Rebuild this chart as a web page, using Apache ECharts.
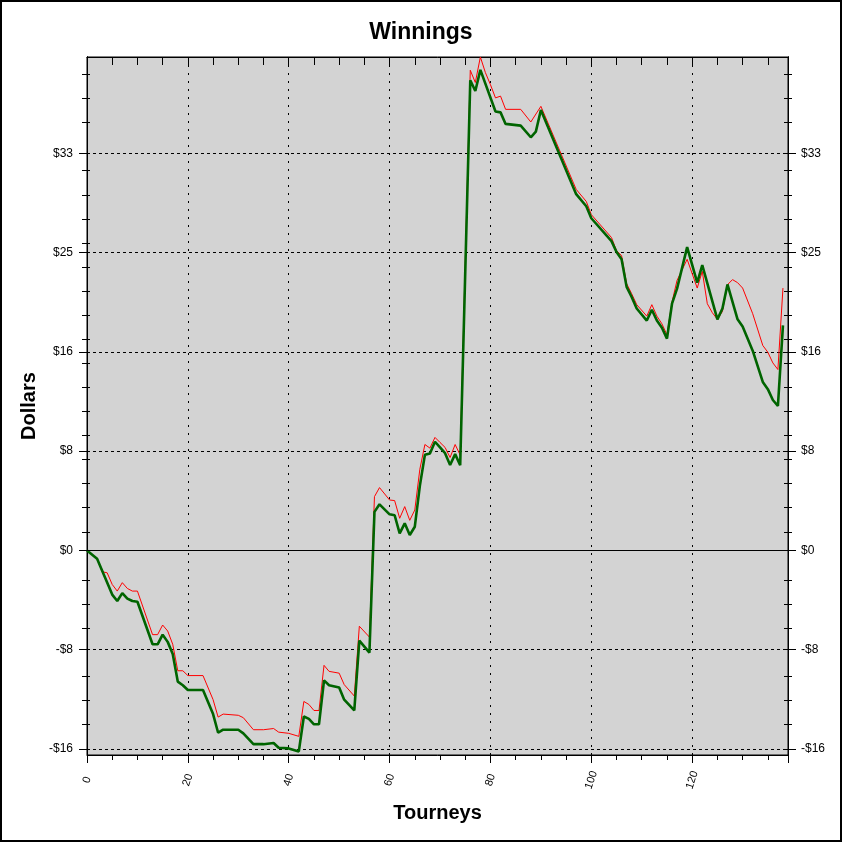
<!DOCTYPE html>
<html>
<head>
<meta charset="utf-8">
<script src="https://cdn.jsdelivr.net/npm/echarts@6/dist/echarts.min.js"></script>
<style>
html,body{margin:0;padding:0;background:#fff;}
#chart{width:842px;height:842px;}
</style>
</head>
<body>
<div id="chart"></div>
<script>
// ---- data ----
const tourneysRed = [0,2,3,4,5,6,7,8,9,10,13,14,15,16,17,18,19,20,23,25,26,27,30,31,33,35,37,38,40,42,43,44,45,46,47,48,50,51,53,54,56,57,58,60,61,62,63,64,65,66,67,68,69,70,71,72,73,74,76,77,78,79,80,81,82,83,86,88,90,97,99,100,104,105,106,107,108,109,111,112,113,114,115,116,117,119,121,122,123,124,125,126,127,128,129,130,132,134,135,136,137,138];
const dollarsRed = [0,-0.69,-1.77,-1.86,-2.83,-3.38,-2.68,-3.16,-3.38,-3.38,-7.0,-7.0,-6.2,-6.7,-7.8,-10.0,-10.0,-10.4,-10.4,-12.4,-13.85,-13.6,-13.7,-13.9,-14.9,-14.9,-14.8,-15.1,-15.2,-15.45,-12.55,-12.8,-13.3,-13.3,-9.55,-10.05,-10.2,-11.15,-12.1,-6.3,-7.2,4.47,5.22,4.19,4.14,2.67,3.64,2.5,3.36,6.75,8.8,8.5,9.39,8.97,8.56,7.72,8.8,7.92,39.9,38.88,41.0,39.7,38.7,37.6,37.75,36.65,36.65,35.6,36.9,30.0,29.0,27.9,26.0,24.9,24.5,22.17,21.33,20.42,19.47,20.42,19.47,18.83,17.92,20.64,22.44,24.19,21.8,23.19,20.5,19.75,19.2,19.86,22.08,22.5,22.25,21.8,19.67,17.03,16.47,15.58,15.03,21.8];

const tourneysGreen = [0,2,5,6,7,8,9,10,13,14,15,16,17,18,19,20,23,25,26,27,30,31,33,35,37,38,40,42,43,44,45,46,47,48,50,51,53,54,56,57,58,60,61,62,63,64,65,66,67,68,69,70,71,72,73,74,76,77,78,81,82,83,86,88,89,90,97,99,100,104,105,106,107,108,109,111,112,113,114,115,116,117,119,121,122,125,126,127,129,130,132,134,135,136,137,138];
const dollarsGreen = [0,-0.69,-3.67,-4.2,-3.55,-4.0,-4.2,-4.27,-7.8,-7.8,-7.0,-7.6,-8.6,-10.9,-11.2,-11.6,-11.6,-13.6,-15.15,-14.9,-14.9,-15.2,-16.1,-16.1,-16.0,-16.4,-16.45,-16.7,-13.8,-14.0,-14.45,-14.45,-10.8,-11.2,-11.4,-12.4,-13.3,-7.5,-8.5,3.2,3.83,3.0,2.92,1.42,2.25,1.28,1.97,5.36,7.94,8.06,9.03,8.56,8.08,7.1,8.0,7.08,39.07,38.18,39.93,36.47,36.4,35.44,35.3,34.33,34.8,36.6,29.6,28.6,27.6,25.7,24.8,24.2,21.9,21.06,20.1,19.1,20.0,19.1,18.5,17.6,20.5,21.75,25.2,22.25,23.7,19.2,20.1,22.1,19.2,18.6,16.6,14.0,13.4,12.5,12.0,18.7];

const yMajorTicks = [-16.5,-8.25,0,8.25,16.5,24.75,33];
const yTickLabels = ['-$16','-$8','$0','$8','$16','$25','$33'];
const yMinorTicks = [-14.45,-12.45,-10.45,-6.45,-4.45,-2.45,1.55,3.55,5.55,7.55,9.55,11.55,13.55,15.55,17.55,19.55,21.55,23.55,25.55,27.55,29.55,31.55,35.55,37.55,39.55];
const xTickValues = [0,20,40,60,80,100,120];
const xTickLabels = ['0','20','40','60','80','100','120'];

// ---- chart ----
const FONT = 'Liberation Sans, Arial, sans-serif';
const yMin = -17.0, yMax = 41.0, xMin = 0, xMax = 139;

function pairs(xs, ys){ return xs.map((x,i)=>[x, ys[i]]); }
function yLabel(v){
  const i = yMajorTicks.findIndex(t => Math.abs(t - v) < 1e-6);
  return i >= 0 ? yTickLabels[i] : '';
}
function xLabel(v){
  const i = xTickValues.indexOf(v);
  return i >= 0 ? xTickLabels[i] : '';
}
const axisLine = {show:true, onZero:false, lineStyle:{color:'#000', width:1}};
function yAx(pos, ticks, len, inside, extra){
  return Object.assign({
    type:'value', gridIndex:0, position:pos, min:yMin, max:yMax,
    axisLine: axisLine,
    axisTick:{show:true, customValues:ticks, length:len, inside:inside, lineStyle:{color:'#000', width:1}},
    axisLabel:{show:false},
    splitLine:{show:false}
  }, extra || {});
}

const chart = echarts.init(document.getElementById('chart'), null, {renderer:'canvas'});
chart.setOption({
  animation:false,
  backgroundColor:'#fff',
  title:{text:'Winnings', left:'center', top:16,
    textStyle:{fontFamily:FONT, fontSize:23, fontWeight:'bold', color:'#000'}},
  grid:{left:87, right:54, top:57, bottom:87, show:true, backgroundColor:'#d3d3d3',
    borderColor:'#000', borderWidth:1, containLabel:false, outerBoundsMode:'none'},
  xAxis:[
    {type:'value', position:'bottom', min:xMin, max:xMax, interval:20,
     name:'Tourneys', nameLocation:'middle', nameGap:48, nameMoveOverlap:false,
     nameTextStyle:{fontFamily:FONT, fontSize:20, fontWeight:'bold', color:'#000'},
     axisLine: axisLine,
     axisTick:{show:true, length:8, lineStyle:{color:'#000'}},
     minorTick:{show:true, splitNumber:4, length:5, lineStyle:{color:'#000'}},
     axisLabel:{show:true, rotate:72, align:'center', verticalAlign:'middle', margin:25,
       fontFamily:FONT, fontSize:11, color:'#000', formatter:xLabel, showMaxLabel:false},
     splitLine:{show:true, lineStyle:{color:'#000', type:[2,6], width:1}}},
    {type:'value', position:'top', min:xMin, max:xMax, interval:5,
     axisLine: axisLine,
     axisTick:{show:true, inside:true, length:8, lineStyle:{color:'#000'}},
     axisLabel:{show:false}, splitLine:{show:false}}
  ],
  yAxis:[
    yAx('left', yMajorTicks, 8, false, {
      name:'Dollars', nameLocation:'middle', nameRotate:90, nameGap:48, nameMoveOverlap:false,
      nameTextStyle:{fontFamily:FONT, fontSize:20, fontWeight:'bold', color:'#000'},
      axisLabel:{show:true, customValues:yMajorTicks, formatter:yLabel, margin:14,
        fontFamily:FONT, fontSize:12, color:'#000'},
      splitLine:{show:true, lineStyle:{color:'#000', type:[3,3], width:1}}
    }),
    yAx('left', yMinorTicks, 5, false),
    yAx('left', yMinorTicks, 3, true),
    yAx('right', yMajorTicks, 8, false, {
      axisLabel:{show:true, customValues:yMajorTicks, formatter:yLabel, margin:13,
        fontFamily:FONT, fontSize:12, color:'#000'}
    }),
    yAx('right', yMinorTicks, 4, false),
    yAx('right', yMajorTicks.concat(yMinorTicks), 4, true)
  ],
  series:[
    {name:'Gross', type:'line', xAxisIndex:0, yAxisIndex:0, data:pairs(tourneysRed, dollarsRed),
     showSymbol:false, symbol:'none', lineStyle:{color:'#ff0000', width:1}, clip:true, z:2,
     markLine:{silent:true, symbol:'none', label:{show:false},
       lineStyle:{color:'#000', type:'solid', width:1}, data:[{yAxis:0}]}},
    {name:'Net', type:'line', xAxisIndex:0, yAxisIndex:0, data:pairs(tourneysGreen, dollarsGreen),
     showSymbol:false, symbol:'none', lineStyle:{color:'#006400', width:2.6}, clip:true, z:3}
  ],
  graphic:[
    {type:'rect', silent:true, z:100, shape:{x:1, y:1, width:840, height:840},
     style:{fill:'none', stroke:'#000', lineWidth:2}}
  ]
});
</script>
</body>
</html>
